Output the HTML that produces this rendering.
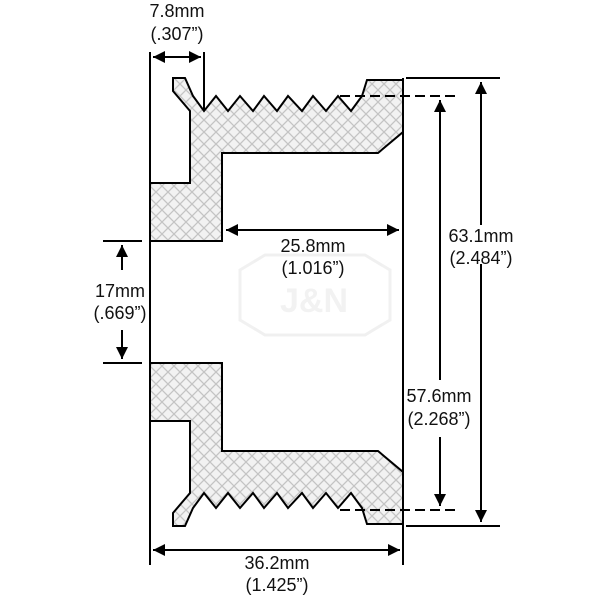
<!DOCTYPE html>
<html><head><meta charset="utf-8"><style>html,body{margin:0;padding:0;background:#fff}svg{display:block}text{font-family:"Liberation Sans",sans-serif;font-size:18px;fill:#111;text-anchor:middle}</style></head><body>
<svg width="600" height="600" viewBox="0 0 600 600" xmlns="http://www.w3.org/2000/svg">
<defs>
<pattern id="h" width="12" height="12" patternUnits="userSpaceOnUse">
<rect width="12" height="12" fill="#f2f2f2"/>
<path d="M0 0L12 12M12 0L0 12" stroke="#c4c4c4" stroke-width="1.3"/>
</pattern>
<marker id="a" viewBox="0 0 10 10" refX="10" refY="5" markerWidth="12" markerHeight="12" markerUnits="userSpaceOnUse" orient="auto-start-reverse"><path d="M0 0L10 5L0 10z" fill="#000"/></marker>
</defs>
<g opacity="0.12"><path d="M240 270L265 255H365L390 270V320L365 335H265L240 320Z" fill="none" stroke="#888" stroke-width="3"/><text x="314" y="312" style="font-size:34px;font-weight:bold;fill:#999">J&amp;N</text></g>
<path fill="url(#h)" stroke="#000" stroke-width="2" stroke-linejoin="miter" d="M173 78H185L193 96L204 111L216 96L228 111L240 96L253 111L264 96L277 111L288 96L302 111L313 96L326 111L338 96L351 111L362 96L367 80H403V132L378 153H222V241H150V183H190V111L173 91Z"/>
<path fill="url(#h)" stroke="#000" stroke-width="2" stroke-linejoin="miter" d="M173 526H185L193 508L204 493L216 508L228 493L240 508L253 493L264 508L277 493L288 508L302 493L313 508L326 493L338 508L351 493L362 508L367 524H403V472L378 451H222V363H150V421H190V493L173 513Z"/>
<g stroke="#000" stroke-width="2" fill="none">
<line x1="150" y1="52" x2="150" y2="565"/>
<line x1="403" y1="78" x2="403" y2="565"/>
<line x1="204" y1="52" x2="204" y2="111"/>
<line x1="406" y1="78" x2="500" y2="78"/>
<line x1="406" y1="526" x2="500" y2="526"/>
<line x1="103" y1="241" x2="142" y2="241"/>
<line x1="103" y1="363" x2="142" y2="363"/>
<line x1="340" y1="96" x2="458" y2="96" stroke-dasharray="10 5"/>
<line x1="340" y1="510" x2="458" y2="510" stroke-dasharray="10 5"/>
<line x1="153" y1="57" x2="201" y2="57" marker-start="url(#a)" marker-end="url(#a)"/>
<line x1="226" y1="230" x2="399" y2="230" marker-start="url(#a)" marker-end="url(#a)"/>
<line x1="153" y1="550" x2="400" y2="550" marker-start="url(#a)" marker-end="url(#a)"/>
<line x1="122" y1="270" x2="122" y2="245" marker-end="url(#a)"/>
<line x1="122" y1="330" x2="122" y2="359" marker-end="url(#a)"/>
<line x1="481" y1="225" x2="481" y2="82" marker-end="url(#a)"/>
<line x1="481" y1="264" x2="481" y2="522" marker-end="url(#a)"/>
<line x1="440" y1="380" x2="440" y2="100" marker-end="url(#a)"/>
<line x1="440" y1="437" x2="440" y2="506" marker-end="url(#a)"/>
</g>
<text x="177" y="17">7.8mm</text><text x="177" y="40">(.307”)</text>
<text x="313" y="252">25.8mm</text><text x="313" y="274">(1.016”)</text>
<text x="120" y="297">17mm</text><text x="120" y="319">(.669”)</text>
<text x="481" y="242">63.1mm</text><text x="481" y="264">(2.484”)</text>
<text x="439" y="402">57.6mm</text><text x="439" y="425">(2.268”)</text>
<text x="277" y="569">36.2mm</text><text x="277" y="591">(1.425”)</text>
</svg>
</body></html>
